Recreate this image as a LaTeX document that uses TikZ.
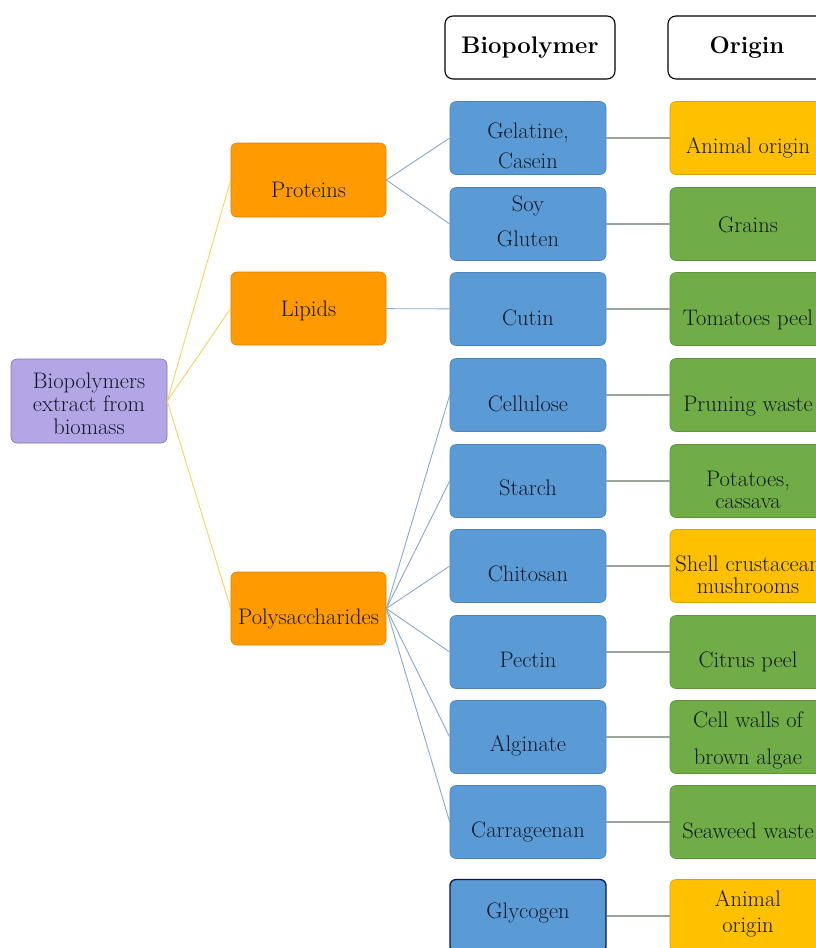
\documentclass[tikz,border=0pt]{standalone}
\usepackage{fontspec}
\usetikzlibrary{positioning}
\definecolor{mblue}{HTML}{5B9BD5}
\definecolor{morange}{HTML}{FF9A00}
\definecolor{myellow}{HTML}{FFC000}
\definecolor{mgreen}{HTML}{70AD47}
\definecolor{mpurple}{HTML}{B4A6E6}
\definecolor{ink}{HTML}{121826}
\definecolor{lyellow}{HTML}{F6D25A}
\definecolor{lbluec}{HTML}{86A8CC}
\definecolor{lgrayc}{HTML}{9AA59A}
\tikzstyle{cell}=[rectangle, rounded corners=6pt, minimum width=156pt, minimum height=73pt, inner sep=1pt, text=ink, font=\fontsize{22.5}{27}\selectfont, line width=0.6]
\tikzstyle{hdr}=[rectangle, rounded corners=8pt, draw=black, fill=white, minimum height=63pt, line width=1.1, font=\bfseries\fontsize{24}{28}\selectfont]
\tikzstyle{lyel}=[line width=0.9, color=lyellow]
\tikzstyle{lblu}=[line width=0.9, color=lbluec]
\tikzstyle{lgry}=[line width=1.1, color=lgrayc]
% text lowered inside its box, lines split with \\
\newcommand{\boxtext}[2][10pt]{\raisebox{-#1}[\height][\depth]{\begin{tabular}{@{}c@{}}#2\end{tabular}}}

\begin{document}
\begin{tikzpicture}[x=1pt, y=-1pt]
    \path[use as bounding box, clip] (0,0) rectangle (816,948);

    \node[hdr, minimum width=170pt] at (530,47.5) (hbio) {Biopolymer};
    \node[hdr, minimum width=158pt] at (747,47.5) (horig) {Origin};

    \node[cell, fill=mpurple, draw=mpurple!70!black, minimum height=84pt] at (89,401) (root) {\boxtext[5pt]{Biopolymers\\[-4pt] extract from\\[-4pt] biomass}};

    \node[cell, fill=morange, draw=morange!85!black, minimum width=155pt, minimum height=74pt] at (308.5,180) (prot) {\boxtext[12pt]{Proteins}};
    \node[cell, fill=morange, draw=morange!85!black, minimum width=155pt] at (308.5,308.5) (lip) {\boxtext[3pt]{Lipids}};
    \node[cell, fill=morange, draw=morange!85!black, minimum width=155pt] at (308.5,608.5) (poly) {\boxtext[11pt]{Polysaccharides}};

    \node[cell, fill=mblue, draw=mblue!85!black] at (528,138) (gel) {\boxtext{Gelatine,\\[3pt] Casein}};
    \node[cell, fill=mblue, draw=mblue!85!black] at (528,224) (soy) {\boxtext[0pt]{Soy\\[8pt] Gluten}};
    \node[cell, fill=mblue, draw=mblue!85!black] at (528,309) (cut) {\boxtext[11pt]{Cutin}};
    \node[cell, fill=mblue, draw=mblue!85!black] at (528,395) (cel) {\boxtext[11pt]{Cellulose}};
    \node[cell, fill=mblue, draw=mblue!85!black] at (528,481) (sta) {\boxtext[9pt]{Starch}};
    \node[cell, fill=mblue, draw=mblue!85!black] at (528,566) (chi) {\boxtext{Chitosan}};
    \node[cell, fill=mblue, draw=mblue!85!black] at (528,652) (pec) {\boxtext{Pectin}};
    \node[cell, fill=mblue, draw=mblue!85!black] at (528,737) (alg) {\boxtext[9pt]{Alginate}};
    \node[cell, fill=mblue, draw=mblue!85!black] at (528,822) (car) {\boxtext{Carrageenan}};
    \node[cell, fill=mblue, draw=ink!80!blue, line width=1.3] at (528,916) (gly) {\boxtext[-3pt]{Glycogen}};

    \node[cell, fill=myellow, draw=myellow!85!black] at (748,138) (ogel) {\boxtext{Animal origin}};
    \node[cell, fill=mgreen, draw=mgreen!85!black] at (748,224) (osoy) {\boxtext[3pt]{Grains}};
    \node[cell, fill=mgreen, draw=mgreen!85!black] at (748,309) (ocut) {\boxtext[11pt]{Tomatoes peel}};
    \node[cell, fill=mgreen, draw=mgreen!85!black] at (748,395) (ocel) {\boxtext[11pt]{Pruning waste}};
    \node[cell, fill=mgreen, draw=mgreen!85!black] at (748,481) (osta) {\boxtext[11pt]{Potatoes,\\[-5pt] cassava}};
    \node[cell, fill=myellow, draw=myellow!85!black] at (748,566) (ochi) {\boxtext[11pt]{Shell crustacean\\[-5pt] mushrooms}};
    \node[cell, fill=mgreen, draw=mgreen!85!black] at (748,652) (opec) {\boxtext{Citrus peel}};
    \node[cell, fill=mgreen, draw=mgreen!85!black] at (748,737) (oalg) {\boxtext[4pt]{Cell walls of\\[10pt] brown algae}};
    \node[cell, fill=mgreen, draw=mgreen!85!black] at (748,822) (ocar) {\boxtext[11pt]{Seaweed waste}};
    \node[cell, fill=myellow, draw=myellow!85!black] at (748,916) (ogly) {\boxtext[-2pt]{Animal\\[-1pt] origin}};

    \draw[lyel] (prot.west) -- (root.east) -- (lip.west);
    \draw[lyel] (root.east) -- (poly.west);

    \draw[lblu] (gel.west) -- (prot.east) -- (soy.west);
    \draw[lblu] (lip) -- (cut);
    \draw[lblu] (cel.west) -- (poly.east) -- (car.west);
    \draw[lblu] (sta.west) -- (poly.east) -- (alg.west);
    \draw[lblu] (chi.west) -- (poly.east) -- (pec.west);

    \draw[lgry] (gel) -- (ogel);
    \draw[lgry] (soy) -- (osoy);
    \draw[lgry] (cut) -- (ocut);
    \draw[lgry] (cel) -- (ocel);
    \draw[lgry] (sta) -- (osta);
    \draw[lgry] (chi) -- (ochi);
    \draw[lgry] (pec) -- (opec);
    \draw[lgry] (alg) -- (oalg);
    \draw[lgry] (car) -- (ocar);
    \draw[lgry] (gly) -- (ogly);
\end{tikzpicture}
\end{document}
